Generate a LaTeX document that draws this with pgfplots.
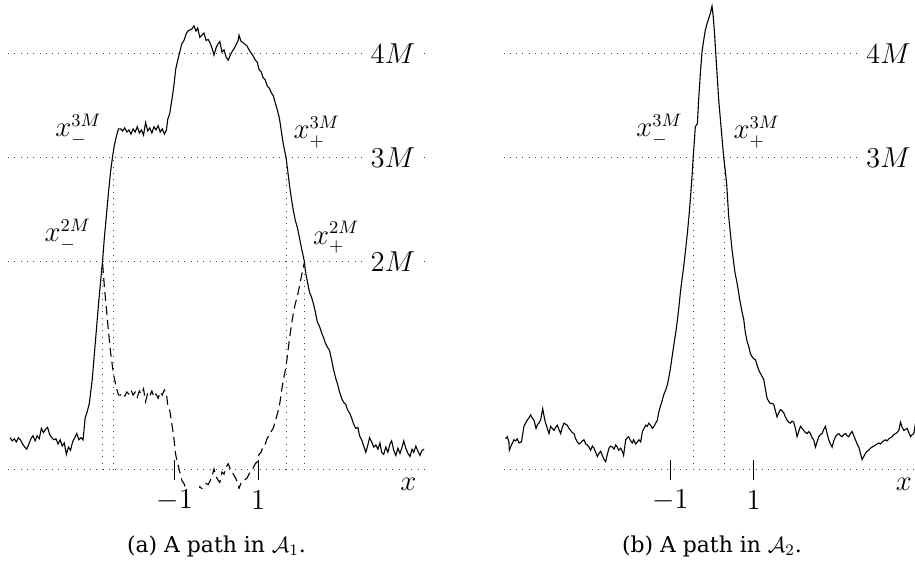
\documentclass[12pt,border=0pt]{standalone}
\usepackage{fontspec}
\setmainfont{DejaVu Serif}
\usepackage{pgfplots}
\pgfplotsset{compat=1.18}

\pgfplotsset{
  pathplot/.style={
    scale only axis, width=208.5pt, height=244.4pt,
    xmin=-5, xmax=5, ymin=-0.18, ymax=4.52,
    hide axis, clip mode=individual, anchor=south west,
  },
}
\tikzset{
  gdot/.style={black!75, line width=0.5pt, dash pattern=on 0.5pt off 2.65pt},
  lev/.style={fill=white, inner xsep=4pt, inner ysep=1pt},
  tk/.style={line width=0.6pt},
  lab/.style={font=\fontsize{13.3}{16}\selectfont},
}

\begin{document}
\begin{tikzpicture}
% (a) path in A_1
\begin{axis}[pathplot, at={(4pt,37.15pt)}]
  \draw[gdot] (axis cs:-5,0) -- (axis cs:5,0);
  \draw[gdot] (axis cs:-5,2) -- (axis cs:5,2);
  \draw[gdot] (axis cs:-5,3) -- (axis cs:5,3);
  \draw[gdot] (axis cs:-5,4) -- (axis cs:5,4);
  \draw[gdot] (axis cs:-2.73,0) -- (axis cs:-2.73,2);
  \draw[gdot] (axis cs:-2.48,0) -- (axis cs:-2.48,3);
  \draw[gdot] (axis cs:1.67,0) -- (axis cs:1.67,3);
  \draw[gdot] (axis cs:2.11,0) -- (axis cs:2.11,2);
  \draw[tk] (axis cs:-1,-0.096) -- (axis cs:-1,0.096);
  \draw[tk] (axis cs:1,-0.096) -- (axis cs:1,0.096);

  \addplot[black, line width=0.55pt] coordinates {
    (-4.95,0.31) (-4.90,0.28) (-4.85,0.30) (-4.80,0.27) (-4.75,0.31) (-4.70,0.29)
    (-4.65,0.25) (-4.60,0.22) (-4.55,0.20) (-4.50,0.25) (-4.45,0.30) (-4.40,0.33)
    (-4.35,0.28) (-4.30,0.33) (-4.25,0.30) (-4.20,0.40) (-4.15,0.36) (-4.10,0.39)
    (-4.05,0.41) (-4.00,0.34) (-3.95,0.31) (-3.90,0.29) (-3.85,0.30) (-3.80,0.25)
    (-3.75,0.29) (-3.70,0.23) (-3.65,0.26) (-3.60,0.15) (-3.55,0.22) (-3.50,0.19)
    (-3.45,0.27) (-3.40,0.31) (-3.35,0.35) (-3.30,0.29) (-3.25,0.31) (-3.20,0.29)
    (-3.15,0.50) (-3.10,0.56) (-3.05,0.64) (-2.98,0.87) (-2.93,1.11) (-2.88,1.35)
    (-2.83,1.59) (-2.78,1.81) (-2.73,2.02) (-2.69,2.23) (-2.64,2.45) (-2.59,2.67)
    (-2.54,2.87) (-2.49,3.02) (-2.45,3.12) (-2.40,3.21) (-2.35,3.28) (-2.30,3.28)
    (-2.25,3.26) (-2.20,3.29) (-2.15,3.25) (-2.10,3.27) (-2.05,3.23) (-2.00,3.28)
    (-1.95,3.25) (-1.90,3.30) (-1.85,3.24) (-1.80,3.27) (-1.75,3.22) (-1.70,3.34)
    (-1.65,3.26) (-1.60,3.29) (-1.55,3.24) (-1.50,3.30) (-1.45,3.27) (-1.40,3.31)
    (-1.35,3.25) (-1.30,3.28) (-1.25,3.23) (-1.20,3.27) (-1.17,3.37) (-1.12,3.43)
    (-1.07,3.56) (-1.02,3.70) (-0.98,3.85) (-0.93,3.94) (-0.88,4.02) (-0.83,4.10)
    (-0.78,4.13) (-0.73,4.19) (-0.69,4.22) (-0.64,4.23) (-0.59,4.24) (-0.54,4.27)
    (-0.49,4.22) (-0.45,4.25) (-0.40,4.16) (-0.35,4.18) (-0.30,4.20) (-0.25,4.13)
    (-0.20,4.14) (-0.16,4.11) (-0.11,4.06) (-0.06,3.99) (-0.01,4.06) (0.04,4.10)
    (0.08,4.12) (0.13,4.02) (0.18,4.04) (0.23,3.97) (0.28,3.94) (0.33,3.99)
    (0.37,4.02) (0.42,4.05) (0.47,4.09) (0.52,4.13) (0.54,4.18) (0.59,4.12)
    (0.64,4.11) (0.69,4.09) (0.73,4.08) (0.78,4.04) (0.83,4.01) (0.88,3.98)
    (0.93,3.94) (0.98,3.92) (1.02,3.85) (1.07,3.83) (1.12,3.77) (1.17,3.75)
    (1.22,3.69) (1.27,3.67) (1.31,3.63) (1.36,3.60) (1.41,3.53) (1.46,3.46)
    (1.51,3.38) (1.55,3.27) (1.60,3.14) (1.67,3.00) (1.75,2.74) (1.80,2.60)
    (1.84,2.50) (1.89,2.40) (1.94,2.33) (1.99,2.23) (2.04,2.13) (2.11,2.00)
    (2.13,1.92) (2.18,1.81) (2.23,1.71) (2.28,1.66) (2.33,1.59) (2.37,1.52)
    (2.42,1.42) (2.47,1.38) (2.52,1.32) (2.57,1.27) (2.61,1.22) (2.66,1.18)
    (2.71,1.15) (2.76,1.06) (2.81,0.96) (2.86,0.88) (2.90,0.83) (2.95,0.75)
    (3.00,0.69) (3.05,0.65) (3.10,0.63) (3.14,0.58) (3.19,0.55) (3.24,0.50)
    (3.29,0.44) (3.34,0.40) (3.39,0.41) (3.43,0.33) (3.48,0.29) (3.53,0.23)
    (3.58,0.17) (3.63,0.24) (3.67,0.31) (3.72,0.27) (3.77,0.22) (3.82,0.24)
    (3.87,0.20) (3.92,0.26) (3.96,0.17) (4.01,0.15) (4.06,0.22) (4.11,0.17)
    (4.16,0.25) (4.20,0.28) (4.25,0.19) (4.30,0.14) (4.35,0.21) (4.40,0.16)
    (4.45,0.22) (4.49,0.28) (4.54,0.21) (4.59,0.16) (4.64,0.13) (4.69,0.20)
    (4.73,0.17) (4.78,0.23) (4.83,0.18) (4.88,0.14) (4.93,0.19) (4.98,0.20)
  };
  % reflected part between x_-^{2M} and x_+^{2M}
  \addplot[black, line width=0.55pt, dash pattern=on 4.5pt off 2.5pt] coordinates {
    (-2.73,1.98) (-2.69,1.77) (-2.64,1.55) (-2.59,1.33) (-2.54,1.13) (-2.49,0.98)
    (-2.45,0.88) (-2.40,0.79) (-2.35,0.72) (-2.30,0.72) (-2.25,0.74) (-2.20,0.71)
    (-2.15,0.75) (-2.10,0.73) (-2.05,0.77) (-2.00,0.72) (-1.95,0.75) (-1.90,0.70)
    (-1.85,0.76) (-1.80,0.73) (-1.75,0.78) (-1.70,0.66) (-1.65,0.74) (-1.60,0.71)
    (-1.55,0.76) (-1.50,0.70) (-1.45,0.73) (-1.40,0.69) (-1.35,0.75) (-1.30,0.72)
    (-1.25,0.77) (-1.20,0.73) (-1.17,0.63) (-1.12,0.57) (-1.07,0.44) (-1.02,0.30)
    (-0.98,0.15) (-0.93,0.06) (-0.88,-0.02) (-0.83,-0.10) (-0.78,-0.13) (-0.73,-0.19)
    (-0.69,-0.22) (-0.64,-0.23) (-0.59,-0.24) (-0.54,-0.27) (-0.49,-0.22) (-0.45,-0.25)
    (-0.40,-0.16) (-0.35,-0.18) (-0.30,-0.20) (-0.25,-0.13) (-0.20,-0.14) (-0.16,-0.11)
    (-0.11,-0.06) (-0.06,0.01) (-0.01,-0.06) (0.04,-0.10) (0.08,-0.12) (0.13,-0.02)
    (0.18,-0.04) (0.23,0.03) (0.28,0.06) (0.33,0.01) (0.37,-0.02) (0.42,-0.05)
    (0.47,-0.09) (0.52,-0.13) (0.54,-0.18) (0.59,-0.12) (0.64,-0.11) (0.69,-0.09)
    (0.73,-0.08) (0.78,-0.04) (0.83,-0.01) (0.88,0.02) (0.93,0.06) (0.98,0.08)
    (1.02,0.15) (1.07,0.17) (1.12,0.23) (1.17,0.25) (1.22,0.31) (1.27,0.33)
    (1.31,0.37) (1.36,0.40) (1.41,0.47) (1.46,0.54) (1.51,0.62) (1.55,0.73)
    (1.60,0.86) (1.67,1.00) (1.75,1.26) (1.80,1.40) (1.84,1.50) (1.89,1.60)
    (1.94,1.67) (1.99,1.77) (2.04,1.87) (2.11,2.00)
  };

  \node[lev,lab] at (axis cs:4.23,4) {$4M$};
  \node[lev,lab] at (axis cs:4.23,3) {$3M$};
  \node[lev,lab] at (axis cs:4.23,2) {$2M$};
  \node[lab] at (axis cs:-3.31,3.27) {$x_-^{3M}$};
  \node[lab] at (axis cs:-3.57,2.26) {$x_-^{2M}$};
  \node[lab] at (axis cs:2.40,3.25) {$x_+^{3M}$};
  \node[lab] at (axis cs:2.87,2.24) {$x_+^{2M}$};
  \node[lab] at (axis cs:-1,-0.29) {$-1$};
  \node[lab] at (axis cs:1,-0.29) {$1$};
  \node[lab] at (axis cs:4.6,-0.135) {$x$};
\end{axis}

% (b) path in A_2
\begin{axis}[pathplot, at={(251.75pt,37.15pt)}]
  \draw[gdot] (axis cs:-5,0) -- (axis cs:5,0);
  \draw[gdot] (axis cs:-5,3) -- (axis cs:5,3);
  \draw[gdot] (axis cs:-5,4) -- (axis cs:5,4);
  \draw[gdot] (axis cs:-0.44,0) -- (axis cs:-0.44,3);
  \draw[gdot] (axis cs:0.29,0) -- (axis cs:0.29,3);
  \draw[tk] (axis cs:-1,-0.096) -- (axis cs:-1,0.096);
  \draw[tk] (axis cs:1,-0.096) -- (axis cs:1,0.096);

  \addplot[black, line width=0.55pt] coordinates {
    (-4.95,0.30) (-4.91,0.32) (-4.87,0.27) (-4.86,0.19) (-4.81,0.24) (-4.75,0.29)
    (-4.71,0.28) (-4.67,0.30) (-4.63,0.26) (-4.57,0.27) (-4.51,0.42) (-4.47,0.45)
    (-4.43,0.48) (-4.39,0.50) (-4.35,0.53) (-4.31,0.50) (-4.27,0.48) (-4.22,0.40)
    (-4.18,0.44) (-4.15,0.45) (-4.11,0.48) (-4.06,0.59) (-4.02,0.50) (-3.99,0.45)
    (-3.95,0.40) (-3.91,0.35) (-3.87,0.42) (-3.83,0.40) (-3.79,0.38) (-3.75,0.41)
    (-3.71,0.43) (-3.67,0.39) (-3.63,0.35) (-3.59,0.41) (-3.55,0.45) (-3.51,0.44)
    (-3.47,0.43) (-3.43,0.40) (-3.39,0.38) (-3.35,0.36) (-3.31,0.35) (-3.27,0.30)
    (-3.23,0.27) (-3.19,0.25) (-3.15,0.26) (-3.11,0.28) (-3.07,0.29) (-3.03,0.25)
    (-2.99,0.24) (-2.95,0.22) (-2.91,0.19) (-2.87,0.23) (-2.83,0.21) (-2.79,0.17)
    (-2.75,0.13) (-2.71,0.16) (-2.67,0.18) (-2.63,0.14) (-2.59,0.10) (-2.55,0.08)
    (-2.51,0.15) (-2.47,0.21) (-2.43,0.23) (-2.39,0.22) (-2.35,0.20) (-2.31,0.24)
    (-2.27,0.22) (-2.24,0.19) (-2.19,0.21) (-2.15,0.18) (-2.12,0.14) (-2.07,0.29)
    (-2.03,0.31) (-2.00,0.32) (-1.95,0.28) (-1.91,0.26) (-1.88,0.29) (-1.83,0.25)
    (-1.79,0.27) (-1.75,0.29) (-1.71,0.27) (-1.67,0.37) (-1.63,0.40) (-1.59,0.43)
    (-1.55,0.42) (-1.52,0.45) (-1.47,0.43) (-1.43,0.40) (-1.39,0.42) (-1.35,0.45)
    (-1.31,0.48) (-1.28,0.55) (-1.24,0.61) (-1.20,0.66) (-1.16,0.72) (-1.11,0.77)
    (-1.07,0.82) (-1.03,0.90) (-1.00,0.97) (-0.96,1.08) (-0.92,1.19) (-0.87,1.32)
    (-0.83,1.44) (-0.79,1.58) (-0.76,1.70) (-0.72,1.83) (-0.68,1.95) (-0.63,2.13)
    (-0.59,2.28) (-0.55,2.45) (-0.52,2.60) (-0.48,2.82) (-0.45,3.01) (-0.42,3.18)
    (-0.40,3.30) (-0.37,3.32) (-0.35,3.33) (-0.32,3.56) (-0.28,3.81) (-0.24,4.02)
    (-0.20,4.13) (-0.16,4.23) (-0.12,4.29) (-0.08,4.34) (-0.04,4.39) (0.00,4.46)
    (0.03,4.36) (0.06,4.20) (0.11,3.88) (0.16,3.56) (0.23,3.24) (0.28,3.01)
    (0.35,2.76) (0.40,2.44) (0.48,2.12) (0.55,1.90) (0.60,1.80) (0.66,1.65)
    (0.72,1.52) (0.76,1.45) (0.80,1.32) (0.84,1.24) (0.88,1.19) (0.92,1.12)
    (0.96,1.09) (1.00,1.07) (1.04,1.06) (1.08,1.01) (1.12,0.96) (1.16,0.93)
    (1.20,0.90) (1.24,0.87) (1.28,0.78) (1.32,0.69) (1.36,0.66) (1.40,0.64)
    (1.44,0.64) (1.48,0.63) (1.52,0.57) (1.56,0.51) (1.60,0.55) (1.64,0.58)
    (1.68,0.57) (1.72,0.55) (1.76,0.51) (1.80,0.48) (1.84,0.46) (1.88,0.45)
    (1.92,0.47) (1.96,0.46) (2.00,0.40) (2.04,0.32) (2.08,0.37) (2.12,0.42)
    (2.16,0.40) (2.20,0.38) (2.24,0.36) (2.28,0.35) (2.32,0.37) (2.36,0.35)
    (2.40,0.31) (2.44,0.29) (2.48,0.22) (2.52,0.27) (2.56,0.32) (2.60,0.34)
    (2.64,0.35) (2.68,0.39) (2.72,0.42) (2.76,0.35) (2.80,0.29) (2.84,0.25)
    (2.88,0.22) (2.92,0.28) (2.96,0.32) (3.00,0.34) (3.04,0.35) (3.08,0.33)
    (3.12,0.32) (3.16,0.34) (3.20,0.35) (3.24,0.33) (3.28,0.32) (3.32,0.35)
    (3.36,0.37) (3.40,0.33) (3.44,0.29) (3.48,0.25) (3.52,0.22) (3.56,0.16)
    (3.60,0.10) (3.64,0.13) (3.68,0.16) (3.72,0.18) (3.76,0.19) (3.80,0.21)
    (3.84,0.22) (3.88,0.23) (3.92,0.24) (3.96,0.25) (4.00,0.26) (4.04,0.25)
    (4.08,0.27) (4.12,0.28) (4.16,0.29) (4.20,0.28) (4.24,0.30) (4.28,0.31)
    (4.32,0.32) (4.36,0.34) (4.40,0.35) (4.44,0.36) (4.48,0.38) (4.52,0.46)
    (4.56,0.41) (4.60,0.38) (4.64,0.39) (4.68,0.40) (4.72,0.36) (4.76,0.32)
    (4.80,0.34) (4.84,0.35) (4.88,0.45) (4.95,0.42)
  };

  \node[lev,lab] at (axis cs:4.23,4) {$4M$};
  \node[lev,lab] at (axis cs:4.23,3) {$3M$};
  \node[lab] at (axis cs:-1.26,3.27) {$x_-^{3M}$};
  \node[lab] at (axis cs:1.07,3.25) {$x_+^{3M}$};
  \node[lab] at (axis cs:-1,-0.29) {$-1$};
  \node[lab] at (axis cs:1,-0.29) {$1$};
  \node[lab] at (axis cs:4.6,-0.135) {$x$};
\end{axis}

\node[font=\small] at (108.25pt,8.25pt) {(a) A path in $\mathcal{A}_1$.};
\node[font=\small] at (356pt,8.25pt) {(b) A path in $\mathcal{A}_2$.};

\pgfresetboundingbox
\path[use as bounding box] (0,0) rectangle (457.5pt,281.5pt);
\end{tikzpicture}
\end{document}
